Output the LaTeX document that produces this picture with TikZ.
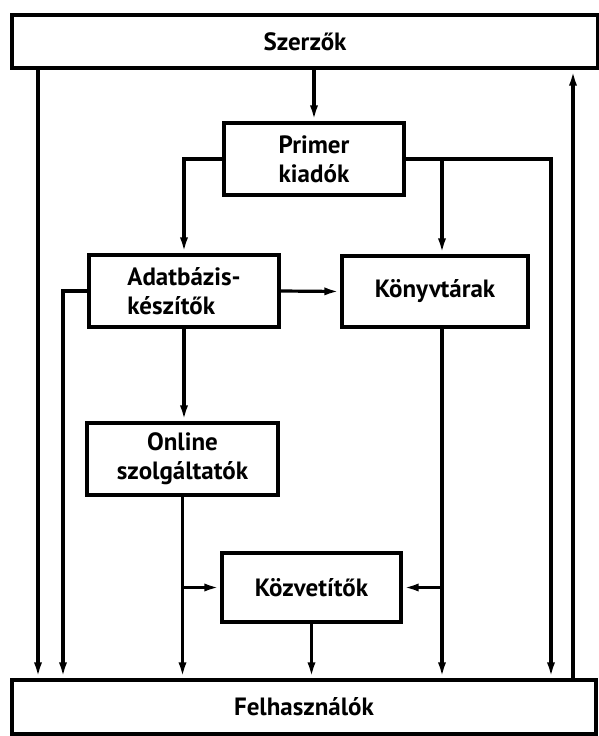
\documentclass[tikz,border=0pt]{standalone}
\usepackage{fontspec}
\setmainfont{PT Sans}
\usetikzlibrary{arrows.meta}
\begin{document}
\begin{tikzpicture}[x=1pt,y=-1pt,
  box/.style={draw, line width=3.2pt, inner sep=0pt, font=\fontsize{25}{29}\selectfont\bfseries},
  arr/.style={-{Latex[length=16pt,width=8pt]}},
  flow/.style={line width=3.2pt}]
\useasboundingbox (0,0) rectangle (599,736);

% boxes
\node[box, minimum width=586pt, minimum height=53pt] (szerzok) at (305,41.5) {Szerzők};
\node[box, minimum width=180pt, minimum height=72pt, align=center] (primer) at (314,159) {Primer\\ kiadók};
\node[box, minimum width=190pt, minimum height=72pt, align=left] (adat) at (184,291) {Adatbázis-\\készítők};
\node[box, minimum width=186pt, minimum height=71pt] (konyv) at (435,291.5) {Könyvtárak};
\node[box, minimum width=191pt, minimum height=72pt, align=center] (online) at (182.5,459) {Online\\szolgáltatók};
\node[box, minimum width=179pt, minimum height=69pt] (kozv) at (311.5,587.5) {Közvetítők};
\node[box, minimum width=584pt, minimum height=54pt] (felh) at (304,707) {Felhasználók};

% vertical line positions
\coordinate (colA) at (38,0);
\coordinate (colB) at (63,0);
\coordinate (colK) at (442,0);
\coordinate (colP) at (551,0);
\coordinate (colR) at (573,0);

% connectors
\draw[flow,arr] (primer.north |- szerzok.south) -- (primer.north);
\draw[flow,arr] (primer.west) -| (adat.north);
\draw[flow,arr] (primer.east) -| (konyv.north -| colK);
\draw[flow,arr] (primer.east) -| (felh.north -| colP);
\draw[flow,arr] (szerzok.south -| colA) -- (felh.north -| colA);
\draw[flow,arr] (felh.north -| colR) -- (szerzok.south -| colR);
\draw[flow,arr] (adat.west) -| (felh.north -| colB);
\draw[flow,arr] (adat.east) -- (konyv.west);
\draw[flow,arr] (adat.south) -- (adat.south |- online.north);
\draw[flow,arr] (online.south) -- (online.south |- felh.north);
\draw[flow,arr] (online.south |- kozv.west) -- (kozv.west);
\draw[flow,arr] (konyv.south -| colK) -- (felh.north -| colK);
\draw[flow,arr] (kozv.east -| colK) -- (kozv.east);
\draw[flow,arr] (kozv.south) -- (kozv.south |- felh.north);
\end{tikzpicture}
\end{document}
